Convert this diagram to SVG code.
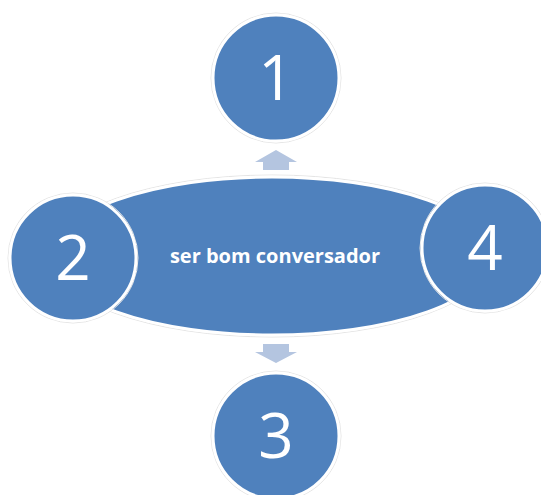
<svg xmlns="http://www.w3.org/2000/svg" width="541" height="495" viewBox="0 0 541 495">
<style>
.shape{fill:#4f81bd;stroke:#ffffff;stroke-width:3}
.halo{fill:none;stroke:#e4e4e4;stroke-width:1}
.num{fill:#ffffff;font-family:"Open Sans","Liberation Sans",sans-serif;font-size:62px;text-anchor:middle}
.lbl{fill:#ffffff;font-family:"Open Sans","Liberation Sans",sans-serif;font-weight:bold;font-size:20px;text-anchor:middle}
.arrow{fill:#b4c5e0}
</style>
<rect width="541" height="495" fill="#ffffff"/>
<g id="center">
<ellipse class="halo" cx="272" cy="256" rx="222" ry="81"/>
<ellipse class="shape" cx="272" cy="256" rx="220" ry="79"/>
<text class="lbl" x="275" y="263">ser bom conversador</text>
</g>
<g id="connectors">
<polygon class="arrow" points="263,170 289,170 289,162 297,162 276,150 255,162 263,162"/>
<polygon class="arrow" points="263,344 289,344 289,352 297,352 276,363 255,352 263,352"/>
</g>
<g id="node1">
<circle class="halo" cx="276" cy="78" r="65"/>
<circle class="shape" cx="276" cy="78" r="63"/>
<text class="num" x="276" y="100">1</text>
</g>
<g id="node2">
<circle class="halo" cx="73" cy="258" r="65"/>
<circle class="shape" cx="73" cy="258" r="63"/>
<text class="num" x="73" y="280">2</text>
</g>
<g id="node4">
<circle class="halo" cx="485" cy="248" r="65"/>
<circle class="shape" cx="485" cy="248" r="63"/>
<text class="num" x="485" y="270">4</text>
</g>
<g id="node3">
<circle class="halo" cx="276" cy="436" r="65"/>
<circle class="shape" cx="276" cy="436" r="63"/>
<text class="num" x="276" y="458">3</text>
</g>
</svg>
